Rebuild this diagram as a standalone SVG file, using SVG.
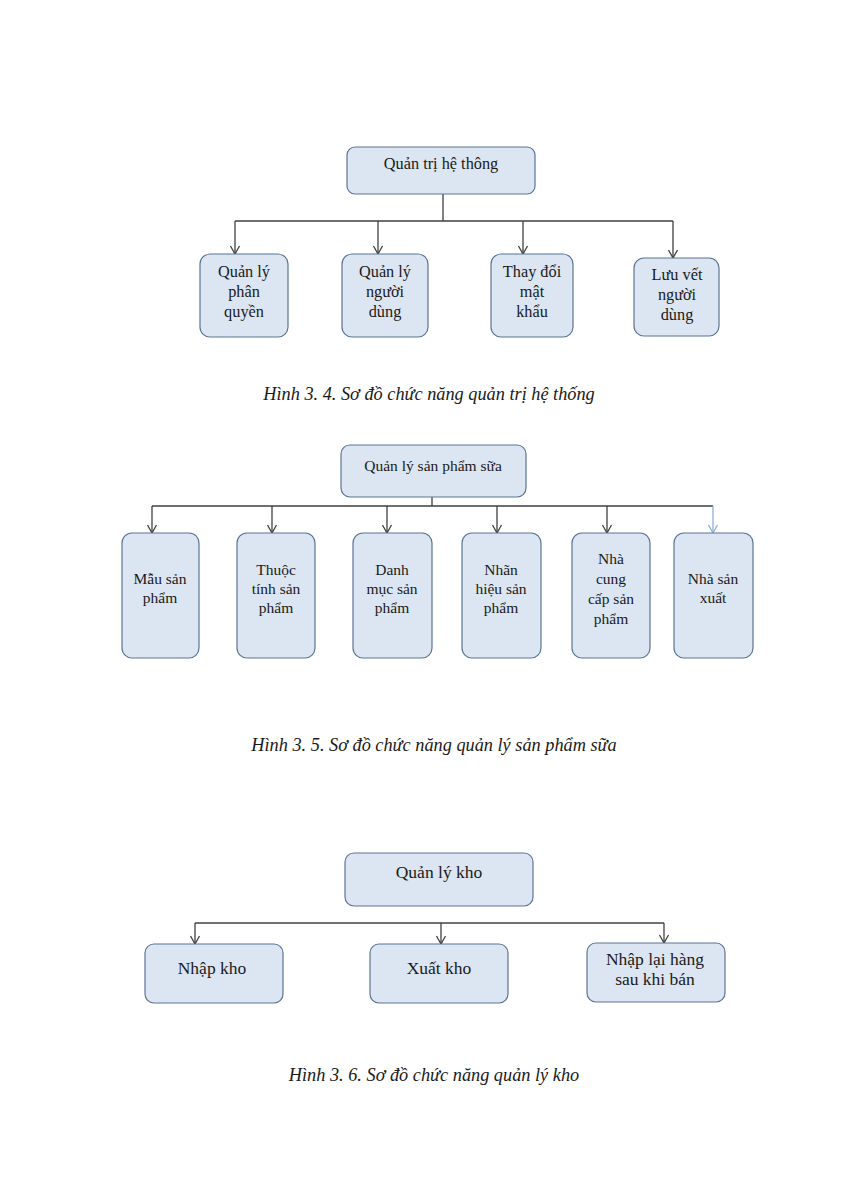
<svg xmlns="http://www.w3.org/2000/svg" width="849" height="1200" viewBox="0 0 849 1200">
<style>
.box{fill:#dce6f2;stroke:#5b7594;stroke-width:1.2}
.t{font-family:"Liberation Serif","Times New Roman",serif;font-size:15.5px;fill:#1a1a1a;text-anchor:middle}
.t1{font-size:16.3px}
.t3{font-size:17.5px}
.cap{font-family:"Liberation Serif","Times New Roman",serif;font-size:18.3px;font-style:italic;fill:#1a1a1a;text-anchor:middle}
.ln{fill:none;stroke:#404040;stroke-width:1.3}
.lb{fill:none;stroke:#8fb0d4;stroke-width:1.3}
</style>
<defs>
<marker id="ah" markerUnits="userSpaceOnUse" markerWidth="10" markerHeight="12" viewBox="0 0 10 12" refX="9" refY="6" orient="auto">
<path d="M1,1.5 L9,6 L1,10.5" fill="none" stroke="#404040" stroke-width="1.3"/>
</marker>
<marker id="ahb" markerUnits="userSpaceOnUse" markerWidth="10" markerHeight="12" viewBox="0 0 10 12" refX="9" refY="6" orient="auto">
<path d="M1,1.5 L9,6 L1,10.5" fill="none" stroke="#8fb0d4" stroke-width="1.3"/>
</marker>
</defs>
<rect width="849" height="1200" fill="#ffffff"/>

<g id="connectors">
<path class="ln" d="M443,194 V221 M235,221 H673"/>
<path class="ln" d="M235,221 V254" marker-end="url(#ah)"/>
<path class="ln" d="M378,221 V254" marker-end="url(#ah)"/>
<path class="ln" d="M523,221 V254" marker-end="url(#ah)"/>
<path class="ln" d="M673,221 V258" marker-end="url(#ah)"/>
<path class="ln" d="M432,497 V506 M152,506 H713"/>
<path class="ln" d="M152,506 V533" marker-end="url(#ah)"/>
<path class="ln" d="M272,506 V533" marker-end="url(#ah)"/>
<path class="ln" d="M387,506 V533" marker-end="url(#ah)"/>
<path class="ln" d="M497,506 V533" marker-end="url(#ah)"/>
<path class="ln" d="M607,506 V533" marker-end="url(#ah)"/>
<path class="lb" d="M713,506 V533" marker-end="url(#ahb)"/>
<path class="ln" d="M195,923 H664"/>
<path class="ln" d="M195,923 V944" marker-end="url(#ah)"/>
<path class="ln" d="M441,923 V944" marker-end="url(#ah)"/>
<path class="ln" d="M664,923 V943" marker-end="url(#ah)"/>
</g>

<g id="qtht">
<rect class="box" x="347" y="147" width="188" height="47" rx="8"/>
<text class="t t1" x="441" y="169">Quản trị hệ thông</text>
</g>
<g id="qlpq">
<rect class="box" x="200" y="254" width="88" height="83" rx="10"/>
<text class="t t1" x="244" y="277">Quản lý</text>
<text class="t t1" x="244" y="297">phân</text>
<text class="t t1" x="244" y="317">quyền</text>
</g>
<g id="qlnd">
<rect class="box" x="342" y="254" width="86" height="83" rx="10"/>
<text class="t t1" x="385" y="277">Quản lý</text>
<text class="t t1" x="385" y="297">người</text>
<text class="t t1" x="385" y="317">dùng</text>
</g>
<g id="tdmk">
<rect class="box" x="491" y="254" width="82" height="83" rx="10"/>
<text class="t t1" x="532" y="277">Thay đổi</text>
<text class="t t1" x="532" y="297">mật</text>
<text class="t t1" x="532" y="317">khẩu</text>
</g>
<g id="lvnd">
<rect class="box" x="634" y="258" width="85" height="78" rx="10"/>
<text class="t t1" x="677" y="280">Lưu vết</text>
<text class="t t1" x="677" y="300">người</text>
<text class="t t1" x="677" y="320">dùng</text>
</g>
<text class="cap" x="429" y="400">Hình 3. 4. Sơ đồ chức năng quản trị hệ thống</text>

<g id="qlsps">
<rect class="box" x="341" y="445" width="185" height="52" rx="9"/>
<text class="t" x="433" y="471">Quản lý sản phẩm sữa</text>
</g>
<g id="msp">
<rect class="box" x="122" y="533" width="77" height="125" rx="10"/>
<text class="t" x="160" y="584">Mẫu sản</text>
<text class="t" x="160" y="603">phẩm</text>
</g>
<g id="ttsp">
<rect class="box" x="237" y="533" width="78" height="125" rx="10"/>
<text class="t" x="276" y="575">Thuộc</text>
<text class="t" x="276" y="594">tính sản</text>
<text class="t" x="276" y="613">phẩm</text>
</g>
<g id="dmsp">
<rect class="box" x="353" y="533" width="79" height="125" rx="10"/>
<text class="t" x="392" y="575">Danh</text>
<text class="t" x="392" y="594">mục sản</text>
<text class="t" x="392" y="613">phẩm</text>
</g>
<g id="nhsp">
<rect class="box" x="462" y="533" width="79" height="125" rx="10"/>
<text class="t" x="501" y="575">Nhãn</text>
<text class="t" x="501" y="594">hiệu sản</text>
<text class="t" x="501" y="613">phẩm</text>
</g>
<g id="nccsp">
<rect class="box" x="572" y="533" width="78" height="125" rx="10"/>
<text class="t" x="611" y="564">Nhà</text>
<text class="t" x="611" y="584">cung</text>
<text class="t" x="611" y="604">cấp sản</text>
<text class="t" x="611" y="624">phẩm</text>
</g>
<g id="nsx">
<rect class="box" x="674" y="533" width="79" height="125" rx="10"/>
<text class="t" x="713" y="584">Nhà sản</text>
<text class="t" x="713" y="603">xuất</text>
</g>
<text class="cap" x="434" y="751">Hình 3. 5. Sơ đồ chức năng quản lý sản phẩm sữa</text>

<g id="qlk">
<rect class="box" x="345" y="853" width="188" height="53" rx="9"/>
<text class="t t3" x="439" y="878">Quản lý kho</text>
</g>
<g id="nk">
<rect class="box" x="145" y="944" width="138" height="59" rx="9"/>
<text class="t t3" x="212" y="974">Nhập kho</text>
</g>
<g id="xk">
<rect class="box" x="370" y="944" width="138" height="59" rx="9"/>
<text class="t t3" x="439" y="974">Xuất kho</text>
</g>
<g id="nlh">
<rect class="box" x="587" y="943" width="138" height="59" rx="9"/>
<text class="t t3" x="655" y="965">Nhập lại hàng</text>
<text class="t t3" x="655" y="985">sau khi bán</text>
</g>
<text class="cap" x="434" y="1081">Hình 3. 6. Sơ đồ chức năng quản lý kho</text>
</svg>
